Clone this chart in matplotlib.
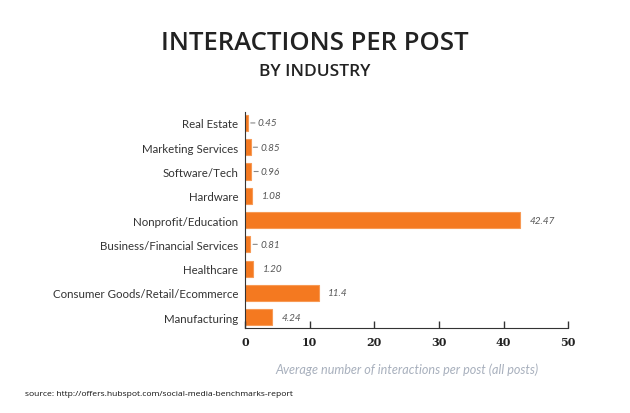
import matplotlib.pyplot as plt

# ---------------- Data ----------------
industries = [
    "Real Estate",
    "Marketing Services",
    "Software/Tech",
    "Hardware",
    "Nonprofit/Education",
    "Business/Financial Services",
    "Healthcare",
    "Consumer Goods/Retail/Ecommerce",
    "Manufacturing",
]
interactions = [0.45, 0.85, 0.96, 1.08, 42.47, 0.81, 1.20, 11.4, 4.24]
value_labels = ["0.45", "0.85", "0.96", "1.08", "42.47", "0.81", "1.20", "11.4", "4.24"]
x_ticks = [0, 10, 20, 30, 40, 50]

# ---------------- Plot ----------------
fig = plt.figure(figsize=(6.3, 4.14), dpi=100)
ax = fig.add_axes([0.389, 0.205, 0.513, 0.522])

ypos = list(range(len(industries)))
ax.barh(ypos, interactions, height=0.66, color="#f47920",
        edgecolor="#f79a55", linewidth=0.8)

for y, v, lab in zip(ypos, interactions, value_labels):
    # small leader dash for the tiny bars
    if v < 1:
        ax.annotate("", xy=(v, y), xytext=(5, 0), textcoords="offset points",
                    arrowprops=dict(arrowstyle="-", color="#888888", lw=0.8,
                                    shrinkA=0, shrinkB=2))
    ax.annotate(lab, (v, y), xytext=(7, 0), textcoords="offset points",
                va="center", ha="left", fontsize=7.2, style="italic",
                family="Lato", color="#555555")

ax.set_ylim(len(industries) - 0.55, -0.45)
ax.set_xlim(0, 50)
ax.set_yticks(ypos)
ax.set_yticklabels(industries, fontsize=8.3, family="Lato", color="#333333")
ax.tick_params(axis="y", length=0, pad=5)

ax.set_xticks(x_ticks)
ax.set_xticklabels([str(t) for t in x_ticks], family="DejaVu Serif",
                   fontweight="bold", fontsize=8, color="#222222")
ax.tick_params(axis="x", direction="in", length=5, width=1, color="#333333", pad=6)

for s in ["top", "right"]:
    ax.spines[s].set_visible(False)
ax.spines["left"].set_color("#333333")
ax.spines["bottom"].set_color("#333333")

ax.set_xlabel("Average number of interactions per post (all posts)",
              fontsize=9.1, style="italic", family="Lato", color="#a8b0bd",
              labelpad=11)

fig.text(0.5, 0.895, "INTERACTIONS PER POST", ha="center", va="center",
         fontsize=18.5, fontweight="semibold", family="Open Sans", color="#222222")
fig.text(0.5, 0.825, "BY INDUSTRY", ha="center", va="center",
         fontsize=12.5, fontweight="semibold", family="Open Sans", color="#222222")
fig.text(0.04, 0.048, "source: http://offers.hubspot.com/social-media-benchmarks-report",
         ha="left", va="center", fontsize=6.1, family="Open Sans", color="#111111")

fig.savefig("out.png", dpi=100)
